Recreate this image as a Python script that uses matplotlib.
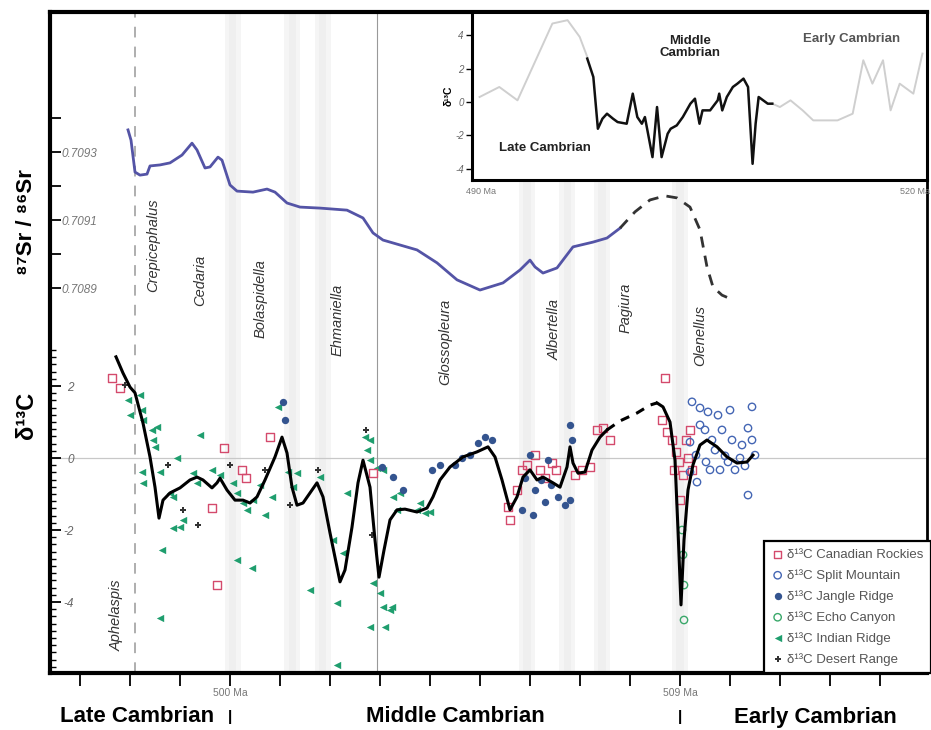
import numpy as np
import matplotlib
matplotlib.use("Agg")
from matplotlib import pyplot as plt
from matplotlib import transforms

plt.rcParams['font.family'] = ['Liberation Sans', 'DejaVu Sans']

# ---- strontium curve (Ma, 87Sr/86Sr) ----
sr_age = [497.96, 498.02, 498.10, 498.20, 498.34, 498.40, 498.60, 498.80, 499.04, 499.24,
          499.34, 499.50, 499.60, 499.76, 499.84, 500.00, 500.14, 500.46, 500.74, 500.90,
          501.14, 501.40, 501.80, 502.34, 502.66, 502.86, 503.06, 503.74, 504.14, 504.54,
          505.00, 505.46, 505.80, 506.00, 506.10, 506.26, 506.54, 506.86, 507.26, 507.54, 507.80]
sr_val = [0.709365, 0.709335, 0.709241, 0.709232, 0.709235, 0.709259, 0.709262, 0.709268, 0.709291, 0.709326,
          0.709306, 0.709253, 0.709256, 0.709285, 0.709276, 0.709203, 0.709185, 0.709182, 0.709191, 0.709182,
          0.709150, 0.709138, 0.709135, 0.709129, 0.709106, 0.709062, 0.709041, 0.709012, 0.708974, 0.708924,
          0.708894, 0.708915, 0.708953, 0.708982, 0.708962, 0.708944, 0.708959, 0.709021, 0.709035, 0.709047, 0.709076]
sr_dash_age = [507.80, 508.10, 508.40, 508.70, 508.94, 509.20, 509.40, 509.54, 509.66, 509.84, 510.06]
sr_dash_val = [0.709076, 0.709124, 0.709159, 0.709171, 0.709165, 0.709138, 0.709071, 0.708962, 0.708903, 0.708879, 0.708865]

# ---- smoothed d13C curve ----
c_age = [497.72, 497.86, 498.00, 498.10, 498.26, 498.40, 498.50, 498.58, 498.66, 498.80, 499.00, 499.20,
         499.34, 499.46, 499.64, 499.74, 499.80, 499.94, 500.10, 500.26, 500.40, 500.54, 500.70, 500.90,
         501.04, 501.14, 501.24, 501.34, 501.46, 501.60, 501.74, 501.86, 502.00, 502.14, 502.20, 502.30,
         502.44, 502.56, 502.66, 502.80, 502.90, 502.98, 503.08, 503.20, 503.34, 503.50, 503.74, 503.94,
         504.06, 504.20, 504.40, 504.66, 504.94, 505.16, 505.30, 505.44, 505.60, 505.74, 505.86, 506.00,
         506.14, 506.26, 506.46, 506.60, 506.74, 506.80, 506.86, 506.96, 507.10, 507.24, 507.40, 507.54]
c_val = [2.81, 2.36, 1.97, 1.81, 0.97, 0.03, -0.81, -1.67, -1.17, -0.97, -0.83, -0.61,
         -0.53, -0.61, -0.83, -0.69, -0.56, -0.89, -1.17, -1.17, -1.25, -1.08, -0.61, 0.03,
         0.58, 0.14, -0.81, -1.31, -1.25, -0.97, -0.69, -1.08, -2.08, -3.03, -3.44, -3.11,
         -1.92, -0.69, -0.06, -0.81, -2.28, -3.31, -2.56, -1.72, -1.44, -1.42, -1.50, -1.39,
         -1.08, -0.61, -0.25, 0.03, 0.17, 0.31, 0.03, -0.61, -1.44, -1.08, -0.53, -0.33,
         -0.61, -0.53, -0.69, -0.81, -0.25, 0.31, -0.14, -0.42, -0.39, 0.22, 0.58, 0.78]
c_dash_age = [507.54, 507.80, 508.14, 508.40, 508.54]
c_dash_val = [0.78, 1.03, 1.25, 1.47, 1.53]
c2_age = [508.54, 508.66, 508.80, 508.90, 508.96, 509.02, 509.08, 509.16, 509.26, 509.40, 509.54,
          509.74, 509.94, 510.14, 510.34, 510.46]
c2_val = [1.53, 1.42, 1.00, -0.06, -2.00, -4.08, -2.28, -0.89, -0.19, 0.36, 0.50,
          0.31, 0.03, -0.14, -0.11, 0.08]

# ---- d13C samples ----
rockies_age = [497.64, 497.80, 499.88, 500.24, 499.64, 499.74, 500.80, 500.32, 502.86, 505.60, 505.56,
               505.74, 505.84, 505.94, 506.10, 506.20, 506.30, 506.44, 506.52, 506.90, 507.04, 507.20,
               507.34, 507.46, 507.60, 508.70, 508.64, 508.74, 508.84, 508.92, 508.98, 509.06, 509.12,
               509.20, 508.88, 509.16, 509.00, 509.24]
rockies_val = [2.22, 1.94, 0.28, -0.33, -1.39, -3.53, 0.58, -0.56, -0.42, -1.72, -1.36,
               -0.89, -0.33, -0.19, 0.08, -0.33, -0.56, -0.14, -0.33, -0.47, -0.33, -0.25,
               0.78, 0.83, 0.50, 2.22, 1.06, 0.72, 0.50, 0.17, -0.11, -0.47, 0.50,
               0.78, -0.33, 0.00, -1.17, -0.33]
split_age = [509.24, 509.40, 509.56, 509.76, 510.00, 510.44, 510.36, 510.24, 510.44, 509.40, 509.20,
             509.32, 509.52, 509.70, 509.90, 510.10, 510.30, 510.50, 509.20, 509.34, 509.50, 509.64,
             509.84, 510.04, 509.60, 509.80, 509.96, 510.20, 510.36]
split_val = [1.56, 1.39, 1.28, 1.19, 1.33, 1.42, 0.83, 0.36, 0.50, 0.92, 0.44,
             0.08, -0.11, 0.22, 0.06, -0.33, -0.22, 0.08, -0.39, -0.67, 0.78, 0.50,
             0.78, 0.50, -0.33, -0.33, -0.11, 0.00, -1.03]
jangle_age = [501.06, 501.10, 503.04, 503.26, 503.46, 504.50, 504.64, 504.80, 504.96, 505.10, 505.24,
              505.90, 506.00, 506.10, 506.22, 506.30, 506.42, 506.56, 506.70, 506.80, 506.80, 506.84,
              505.84, 506.06, 506.36, 504.20, 504.04]
jangle_val = [1.56, 1.06, -0.25, -0.53, -0.89, -0.19, 0.00, 0.08, 0.42, 0.58, 0.50,
              -0.56, 0.08, -0.89, -0.61, -1.22, -0.75, -1.08, -1.31, -1.17, 0.92, 0.50,
              -1.44, -1.58, -0.06, -0.19, -0.33]
echo_age = [509.04, 509.06, 509.08, 509.08]
echo_val = [-2.00, -2.69, -3.53, -4.50]
indian_age = [498.20, 498.24, 498.26, 498.44, 498.54, 498.46, 498.50, 498.94, 499.40, 498.60, 498.24,
              498.26, 498.80, 498.86, 499.26, 499.34, 499.00, 498.86, 499.06, 498.64, 498.60, 500.06,
              500.14, 500.26, 500.34, 500.46, 500.70, 500.84, 500.14, 500.44, 501.60, 502.14, 502.14,
              500.96, 501.16, 501.26, 501.34, 501.80, 502.06, 502.26, 502.34, 502.70, 502.74, 502.80,
              502.94, 503.06, 502.86, 503.00, 503.06, 503.20, 502.80, 503.10, 503.24, 503.26, 503.34,
              503.40, 503.74, 503.90, 504.00, 503.80, 502.80, 499.64, 499.80, 500.60, 498.00, 497.96]
indian_val = [1.75, 1.33, 1.06, 0.78, 0.86, 0.50, 0.31, 0.00, 0.64, -0.39, -0.39,
              -0.69, -0.97, -1.08, -0.42, -0.69, -1.92, -1.94, -1.72, -2.56, -4.44, -0.69,
              -0.97, -1.25, -1.44, -1.17, -1.58, -1.08, -2.83, -3.06, -3.67, -4.03, -5.75,
              1.42, -0.39, -0.81, -0.42, -0.53, -2.28, -2.64, -0.97, 0.58, 0.22, -0.06,
              -0.28, -0.33, -3.47, -3.75, -4.14, -4.22, -4.69, -4.69, -4.14, -1.08, -1.44,
              -0.97, -1.44, -1.53, -1.50, -1.25, 0.50, -0.33, -0.47, -0.75, 1.19, 1.61]
desert_age = [497.90, 498.76, 499.36, 500.70, 501.20, 501.76, 502.72, 502.84, 499.06, 500.00]
desert_val = [2.03, -0.19, -1.86, -0.33, -1.31, -0.33, 0.78, -2.14, -1.44, -0.19]

# ---- inset: global d13C record ----
in_gray1_age = [490.5, 491.8, 493.0, 494.2, 495.3, 496.3, 497.1, 497.6]
in_gray1_val = [0.3, 0.9, 0.1, 2.5, 4.7, 4.9, 3.9, 2.7]
in_black_age = [497.6, 498.0, 498.3, 498.6, 498.9, 499.3, 499.6, 500.2, 500.6, 500.9, 501.2, 501.4,
                501.9, 502.2, 502.5, 502.9, 503.1, 503.5, 503.9, 504.4, 504.7, 505.0, 505.2, 505.7,
                506.2, 506.3, 506.5, 506.8, 507.2, 507.5, 507.9, 508.2, 508.5, 508.7, 508.9, 509.2,
                509.5, 509.8]
in_black_val = [2.6, 1.5, -1.6, -1.0, -0.7, -1.0, -1.2, -1.3, 0.5, -0.9, -1.3, -0.9,
                -3.3, -0.3, -3.3, -1.9, -1.6, -1.4, -0.9, -0.1, 0.2, -1.3, -0.5, -0.5,
                0.1, 0.5, -0.5, 0.3, 0.9, 1.1, 1.4, 0.9, -3.7, -1.3, 0.3, 0.1,
                -0.1, -0.1]
in_gray2_age = [509.8, 510.3, 511.0, 511.8, 512.5, 514.1, 515.1, 515.8, 516.4, 517.1, 517.6, 518.2,
                519.1, 519.7]
in_gray2_val = [-0.1, -0.3, 0.1, -0.5, -1.1, -1.1, -0.7, 2.5, 1.1, 2.5, -0.5, 1.1, 0.5, 2.9]

genera = ['Crepicephalus', 'Cedaria', 'Bolaspidella', 'Ehmaniella', 'Glossopleura',
          'Albertella', 'Pagiura', 'Olenellus', 'Aphelaspis']
genus_age = [498.46, 499.40, 500.62, 502.16, 504.30, 506.50, 507.92, 509.40, 497.74]
genus_y = [5.92, 4.94, 4.42, 3.83, 3.22, 3.56, 4.17, 3.39, -4.36]

band_age = [500.05, 501.25, 501.85, 505.95, 506.75, 507.45, 509.0]

W, H = 931, 730
fig = plt.figure(figsize=(W / 100, H / 100), dpi=100)

ax = fig.add_axes([50 / W, 1 - 673 / H, 877 / W, 661 / H])
ax.set_xlim(496.4, 513.94)
ax.set_ylim(-5.972, 12.389)

# soft grey bands
for b in band_age:
    ax.axvspan(b - 0.16, b + 0.16, color='#f5f5f5', lw=0, zorder=0)
    ax.axvspan(b - 0.08, b + 0.08, color='#efefef', lw=0, zorder=0)
ax.axhline(0, color='#c8c8c8', lw=0.9, zorder=1)
ax.axvline(498.1, color='#999999', lw=1.1, ls=(0, (7, 6)), zorder=1)
ax.axvline(502.95, color='#999999', lw=0.8, zorder=1)

ms = 28
ax.scatter(indian_age, indian_val, marker='<', s=ms, color='#1f9e6e', lw=0, zorder=3,
           label='δ¹³C Indian Ridge')
ax.scatter(rockies_age, rockies_val, marker='s', s=ms, facecolors='none', edgecolors='#d44a6c',
           lw=1.0, zorder=3, label='δ¹³C Canadian Rockies')
ax.scatter(split_age, split_val, marker='o', s=ms, facecolors='none', edgecolors='#4466b4',
           lw=1.0, zorder=3, label='δ¹³C Split Mountain')
ax.scatter(jangle_age, jangle_val, marker='o', s=ms, color='#34548f', lw=0, zorder=3,
           label='δ¹³C Jangle Ridge')
ax.scatter(echo_age, echo_val, marker='o', s=ms, facecolors='none', edgecolors='#3aa86a',
           lw=1.0, zorder=3, label='δ¹³C Echo Canyon')
ax.scatter(desert_age, desert_val, marker='P', s=20, color='#333333', lw=0, zorder=3,
           label='δ¹³C Desert Range')

ax.plot(c_age, c_val, color='black', lw=2.2, zorder=4)
ax.plot(c_dash_age, c_dash_val, color='black', lw=2.2, ls=(0, (3, 2.5)), zorder=4)
ax.plot(c2_age, c2_val, color='black', lw=2.2, zorder=4)

for name, a, y in zip(genera, genus_age, genus_y):
    ax.text(a, y, name, rotation=90, ha='center', va='center', style='italic',
            fontsize=10.5, color='#333333', zorder=2)

for s in ['left', 'bottom', 'top']:
    ax.spines[s].set_linewidth(3)
ax.spines['right'].set_linewidth(2)

ax.set_yticks([-4, -2, 0, 2], labels=['-4', '-2', '0', '2'], fontstyle='italic')
ax.set_yticks(np.round(np.arange(-5.8, 3.01, 0.2), 1), minor=True)
ax.tick_params(axis='y', which='major', direction='in', length=8, width=1.3, pad=-17,
               labelsize=8.5, labelcolor='#666666')
ax.tick_params(axis='y', which='minor', direction='in', length=4, width=1.0)

xt = list(range(497, 514))
ax.set_xticks(xt, labels=['500 Ma' if v == 500 else '509 Ma' if v == 509 else '' for v in xt])
ax.tick_params(axis='x', direction='out', length=9, width=1.3, pad=2, labelsize=7.5,
               labelcolor='#777777')

handles, labels = ax.get_legend_handles_labels()
order = ['δ¹³C Canadian Rockies', 'δ¹³C Split Mountain', 'δ¹³C Jangle Ridge',
         'δ¹³C Echo Canyon', 'δ¹³C Indian Ridge', 'δ¹³C Desert Range']
hmap = dict(zip(labels, handles))
leg = ax.legend([hmap[k] for k in order], order, loc='lower right', bbox_to_anchor=(1.004, 0.0),
                fontsize=9.5, frameon=True, fancybox=False, framealpha=1, borderaxespad=0,
                handletextpad=0.2, handlelength=1.0, labelspacing=0.62, borderpad=0.55,
                labelcolor='#555555')
leg.get_frame().set_edgecolor('black')
leg.get_frame().set_linewidth(1.6)
leg.set_zorder(6)

# Sr axis shares the left spine
ax_sr = ax.twinx()
ax_sr.set_ylim(0.7077676, 0.7097118)
for s in ax_sr.spines.values():
    s.set_visible(False)
ax_sr.yaxis.tick_left()
ax_sr.plot(sr_age, sr_val, color='#5454a6', lw=2.0, zorder=3)
ax_sr.plot(sr_dash_age, sr_dash_val, color='#333333', lw=2.0, ls=(0, (4, 3)), zorder=3)
ax_sr.set_yticks([0.7089, 0.7091, 0.7093], labels=['0.7089', '0.7091', '0.7093'],
                 fontstyle='italic', ha='left')
ax_sr.set_yticks([0.7090, 0.7092, 0.7094], minor=True)
ax_sr.tick_params(axis='y', which='both', direction='in', length=8, width=1.3, pad=-8.6,
                  labelsize=8.5, labelcolor='#777777')

fig.text(27 / W, 1 - 222 / H, '⁸⁷Sr / ⁸⁶Sr', rotation=90, ha='center', va='center',
         fontsize=16, fontweight='bold')
fig.text(27 / W, 1 - 415 / H, 'δ¹³C', rotation=90, ha='center', va='center',
         fontsize=17, fontweight='bold')

tb = transforms.blended_transform_factory(ax.transData, fig.transFigure)
for a in [500, 509]:
    ax.text(a, 1 - 717 / H, '|', transform=tb, ha='center', va='center', fontsize=11,
            fontweight='bold', clip_on=False)
fig.text(137 / W, 1 - 717 / H, 'Late Cambrian', ha='center', va='center', fontsize=16,
         fontweight='bold')
fig.text(455 / W, 1 - 717 / H, 'Middle Cambrian', ha='center', va='center', fontsize=16,
         fontweight='bold')
fig.text(815 / W, 1 - 717 / H, 'Early Cambrian', ha='center', va='center', fontsize=16,
         fontweight='bold')

# inset
ins = fig.add_axes([472 / W, 1 - 180 / H, 455 / W, 168 / H])
ins.set_zorder(5)
ins.set_facecolor('white')
ins.set_xlim(490, 520)
ins.set_ylim(-4.67, 5.39)
ins.plot(in_gray1_age, in_gray1_val, color='#cfcfcf', lw=1.4)
ins.plot(in_gray2_age, in_gray2_val, color='#cfcfcf', lw=1.4)
ins.plot(in_black_age, in_black_val, color='#111111', lw=1.8)
for s in ins.spines.values():
    s.set_linewidth(2.2)
ins.set_yticks([-4, -2, 0, 2, 4], labels=['-4', '-2', '0', '2', '4'], fontstyle='italic')
ins.tick_params(axis='y', direction='out', length=4, width=1, pad=2, labelsize=7,
                labelcolor='#666666')
ins.set_xticks([490.6, 519.2], labels=['490 Ma', '520 Ma'])
ins.tick_params(axis='x', length=0, pad=5, labelsize=6.5, labelcolor='#777777')
ins.set_ylabel('δ¹³C', fontsize=7.5, fontweight='bold', labelpad=1)
ins.text(494.8, -2.75, 'Late Cambrian', ha='center', va='center', fontsize=9.5, fontweight='bold',
         color='#222222')
ins.text(504.4, 3.3, 'Middle\nCambrian', ha='center', va='center', fontsize=9.5, fontweight='bold',
         color='#222222', linespacing=1.0)
ins.text(515.0, 3.8, 'Early Cambrian', ha='center', va='center', fontsize=9.5, fontweight='bold',
         color='#555555')

fig.savefig('out.png', dpi=100)
